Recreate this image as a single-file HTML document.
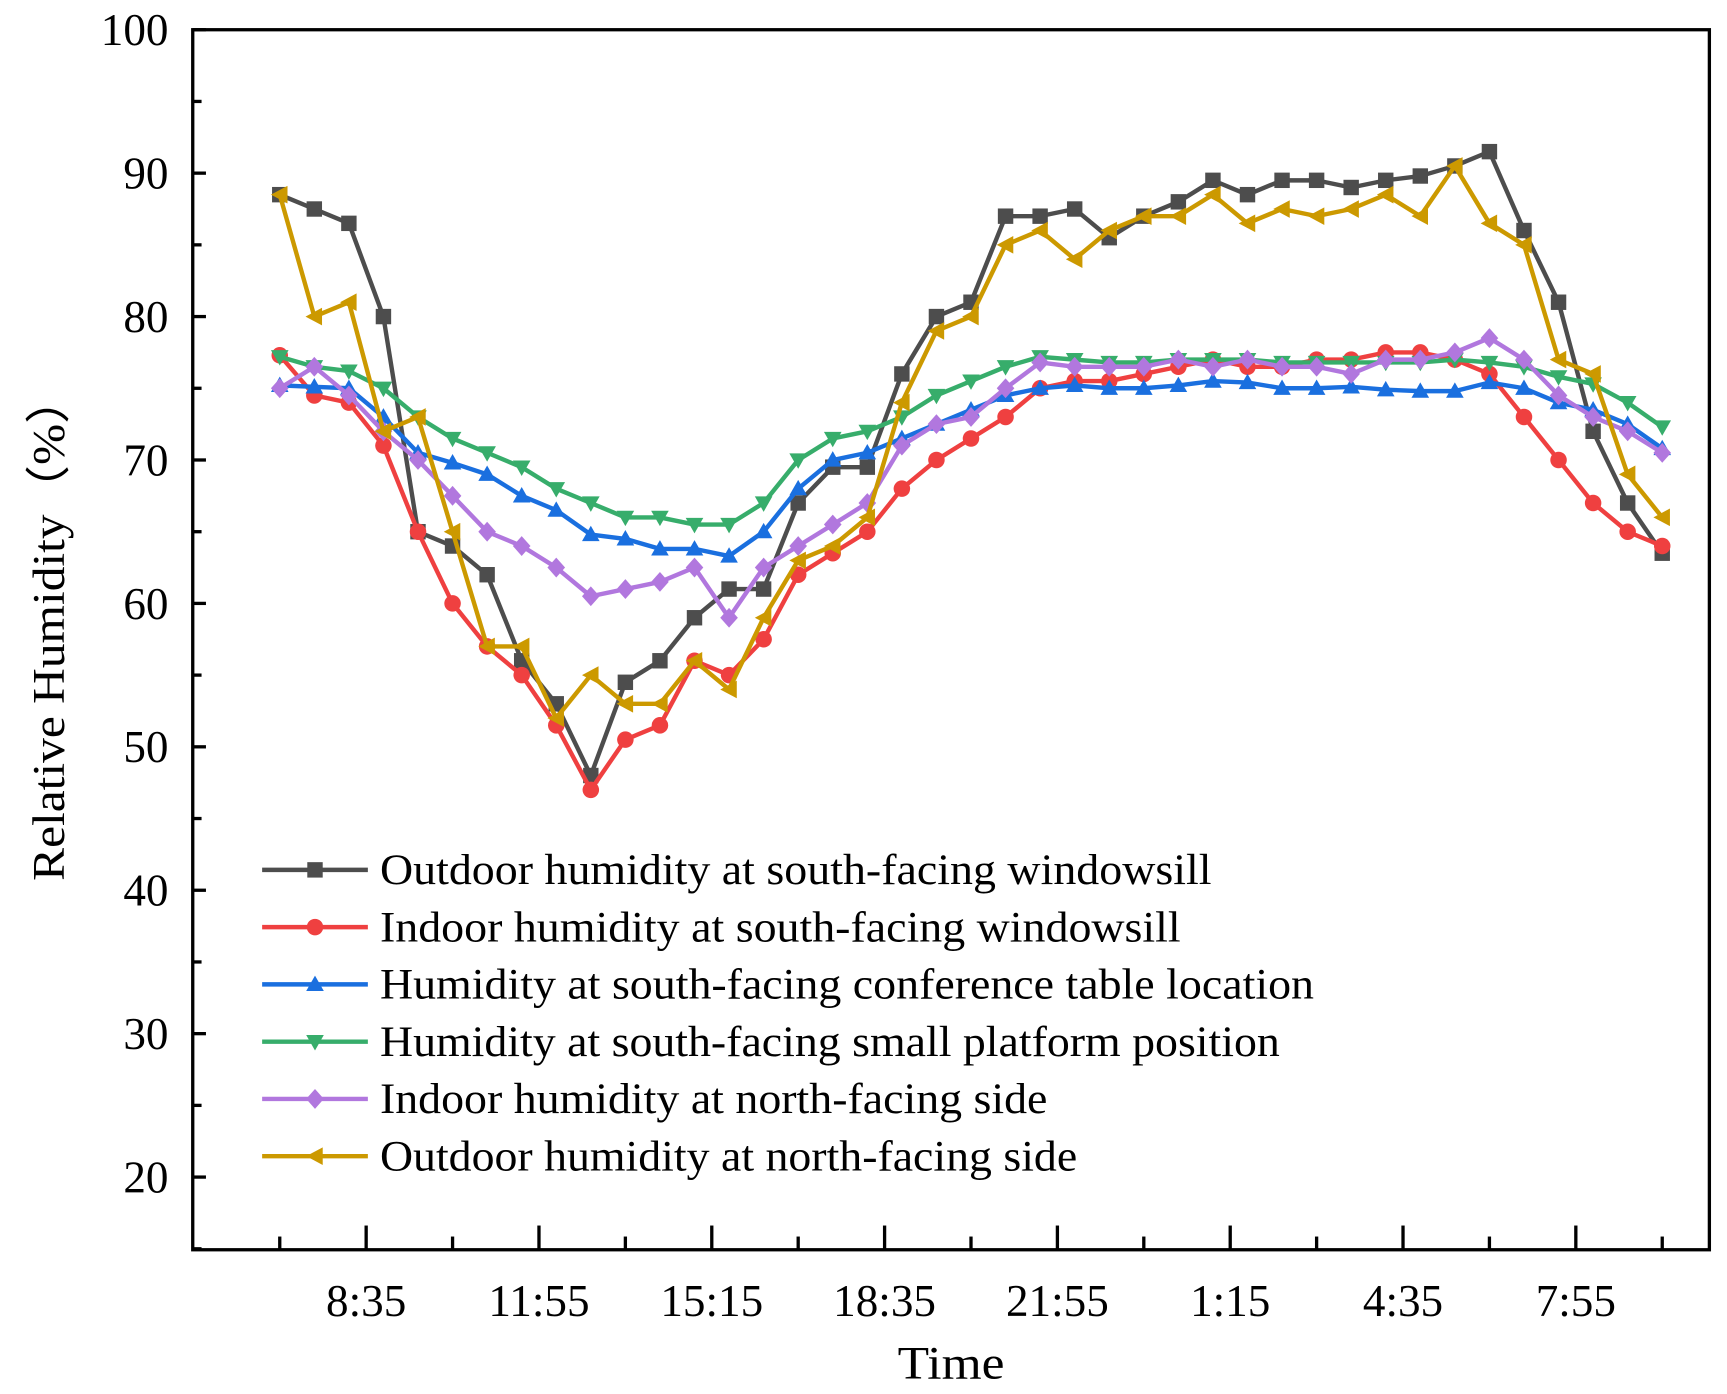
<!DOCTYPE html>
<html><head><meta charset="utf-8"><style>
html,body{margin:0;padding:0;background:#fff;}
svg{display:block;}
text{font-family:"Liberation Serif",serif;fill:#000;}
</style></head><body>
<svg id="chart" width="1727" height="1394" viewBox="0 0 1568 1266" preserveAspectRatio="none" xmlns="http://www.w3.org/2000/svg">
<g id="plot"></g>
<g id="axes"></g>
<g id="legend"></g>
</svg>
<script>
const minutes = [];
for (let k = 0; k <= 40; k++) minutes.push(k * 40);
const xTickLabels = ["8:35","11:55","15:15","18:35","21:55","1:15","4:35","7:55"];
const yTickValues = [20,30,40,50,60,70,80,90,100];
const seriesNames = ["Outdoor humidity at south-facing windowsill","Indoor humidity at south-facing windowsill","Humidity at south-facing conference table location","Humidity at south-facing small platform position","Indoor humidity at north-facing side","Outdoor humidity at north-facing side"];
const outdoorSouth = [88.5,87.5,86.5,80,65,64,62,56,53,48,54.5,56,59,61,61,67,69.5,69.5,76,80,81,87,87,87.5,85.5,87,88,89.5,88.5,89.5,89.5,89,89.5,89.8,90.5,91.5,86,81,72,67,63.5];
const indoorSouth = [77.3,74.5,74,71,65,60,57,55,51.5,47,50.5,51.5,56,55,57.5,62,63.5,65,68,70,71.5,73,75,75.5,75.5,76,76.5,77,76.5,76.5,77,77,77.5,77.5,77,76,73,70,67,65,64];
const conferenceSouth = [75.2,75.1,75,73,70.5,69.8,69,67.5,66.5,64.8,64.5,63.8,63.8,63.3,65,68,70,70.5,71.5,72.5,73.5,74.5,75,75.2,75,75,75.2,75.5,75.4,75,75,75.1,74.9,74.8,74.8,75.4,75,74,73.5,72.5,70.8];
const platformSouth = [77.2,76.5,76.2,75,73,71.5,70.5,69.5,68,67,66,66,65.5,65.5,67,70,71.5,72,73,74.5,75.5,76.5,77.2,77,76.8,76.8,77,77,77,76.8,76.8,76.8,76.8,76.8,77,76.8,76.5,75.8,75.3,74,72.3];
const indoorNorth = [75,76.5,74.5,72,70,67.5,65,64,62.5,60.5,61,61.5,62.5,59,62.5,64,65.5,67,71,72.5,73,75,76.8,76.5,76.5,76.5,77,76.5,77,76.5,76.5,76,77,77,77.5,78.5,77,74.5,73,72,70.5];
const outdoorNorth = [88.5,80,81,72,73,65,57,57,52,55,53,53,56,54,59,63,64,66,74,79,80,85,86,84,86,87,87,88.5,86.5,87.5,87,87.5,88.5,87,90.5,86.5,85,77,76,69,66];

const NS = "http://www.w3.org/2000/svg";
const L = 175, R = 1552, T = 27, B = 1135;
const xs = m => 254 + m * 0.7845;
const ys = v => T + (100 - v) * 13.025;
function mk(tag, attrs, parent) { const e = document.createElementNS(NS, tag); for (const k in attrs) e.setAttribute(k, attrs[k]); parent.appendChild(e); return e; }
const plot = document.getElementById('plot'), axes = document.getElementById('axes'), legend = document.getElementById('legend');

const colors = ["#4d4d4d","#ef4040","#1a6fdf","#37ad6b","#b177de","#cc9900"];
const shapes = ["square","circle","up","down","diamond","left"];
const allSeries = [outdoorSouth, indoorSouth, conferenceSouth, platformSouth, indoorNorth, outdoorNorth];
const keys = ["outdoor-south","indoor-south","conference-south","platform-south","indoor-north","outdoor-north"];
const legendWidths = [755, 727, 848, 817, 606, 633];

function marker(shape, x, y, c, parent) {
  let e; const s = 7;
  if (shape === "square") e = mk('rect', {x:x-s, y:y-s, width:2*s, height:2*s, fill:c}, parent);
  else if (shape === "circle") e = mk('circle', {cx:x, cy:y, r:s+0.5, fill:c}, parent);
  else {
    let p;
    if (shape === "up") p = [[x,y-s-1],[x+s+1,y+s-1],[x-s-1,y+s-1]];
    else if (shape === "down") p = [[x,y+s+1],[x+s+1,y-s+1],[x-s-1,y-s+1]];
    else if (shape === "diamond") p = [[x,y-s-2],[x+s+1,y],[x,y+s+2],[x-s-1,y]];
    else p = [[x-s-1,y],[x+s,y-s-1],[x+s,y+s+1]];
    e = mk('polygon', {points:p.map(q=>q.join(',')).join(' '), fill:c}, parent);
  }
  return e;
}

allSeries.forEach((vals, i) => {
  const g = mk('g', {}, plot);
  
  
  const d = vals.map((v, k) => (k ? 'L' : 'M') + xs(minutes[k]).toFixed(1) + ',' + ys(v).toFixed(1)).join(' ');
  const line = mk('path', {d:d, fill:'none', stroke:colors[i], 'stroke-width':4, 'stroke-linejoin':'round'}, g);
  
  
  vals.forEach((v, k) => {
    const m = marker(shapes[i], xs(minutes[k]), ys(v), colors[i], g);
    
    
  });
});

const frame = mk('rect', {x:L, y:T, width:R-L, height:B-T, fill:'none', stroke:'#000', 'stroke-width':3}, axes);



for (let v = 15; v <= 100; v += 5) {
  const major = v % 10 === 0;
  const t = mk('line', {x1:L, x2:L + (major ? 12 : 8), y1:ys(v), y2:ys(v), stroke:'#000', 'stroke-width':3}, axes);
  
  
}
yTickValues.forEach(v => {
  const t = mk('text', {x:L - 22, y:ys(v) + 14, 'font-size':41, 'text-anchor':'end'}, axes);
  t.textContent = v;
  
  
});
for (let k = 0; k <= 16; k++) {
  const m = k * 100, major = k % 2 === 1;
  const t = mk('line', {x1:xs(m), x2:xs(m), y1:B, y2:B - (major ? 22 : 12), stroke:'#000', 'stroke-width':3}, axes);
  
  
}
xTickLabels.forEach((lab, i) => {
  const t = mk('text', {x:xs(100 + i * 200), y:1195, 'font-size':41, 'text-anchor':'middle'}, axes);
  t.textContent = lab;
  
  
});
const xt = mk('text', {x:815, y:1252, 'font-size':42, textLength:97, lengthAdjust:'spacingAndGlyphs'}, axes);
xt.textContent = 'Time';


const yt = mk('text', {x:0, y:0, 'font-size':41, textLength:460, lengthAdjust:'spacingAndGlyphs', transform:'translate(58,800) rotate(-90)'}, axes);
yt.textContent = 'Relative Humidity（%）';



seriesNames.forEach((name, i) => {
  const y = 790 + i * 52;
  const g = mk('g', {}, legend);
  
  
  mk('line', {x1:238, x2:334, y1:y, y2:y, stroke:colors[i], 'stroke-width':4}, g);
  marker(shapes[i], 286, y, colors[i], g);
  const t = mk('text', {x:345, y:y + 13, 'font-size':39, textLength:legendWidths[i], lengthAdjust:'spacingAndGlyphs'}, g);
  t.textContent = name;
});
</script>
</body></html>
